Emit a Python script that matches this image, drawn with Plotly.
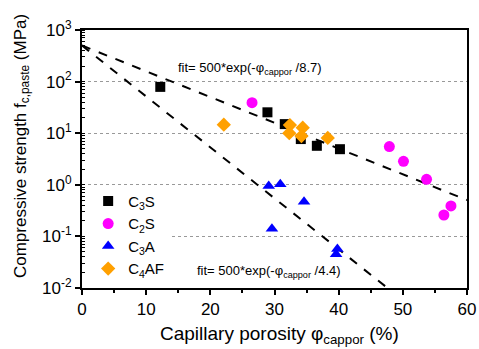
import numpy as np
import plotly.graph_objects as go

# Data
c3s_x = [12.2, 28.9, 31.6, 34.1, 36.6, 40.2]
c3s_y = [79, 25.4, 15, 7.7, 5.7, 4.9]

c2s_x = [26.5, 47.9, 50.1, 53.7, 57.5, 56.4]
c2s_y = [39, 5.5, 2.85, 1.28, 0.39, 0.26]

c3a_x = [29.1, 30.9, 34.6, 29.6, 39.8, 39.6]
c3a_y = [0.95, 1.02, 0.47, 0.14, 0.057, 0.045]

c4af_x = [22.1, 32.4, 32.3, 34.4, 34.2, 38.3]
c4af_y = [14.6, 14.4, 10.0, 12.8, 8.8, 8.1]

# Fit parameters: fit = A*exp(-phi/tau)
fit_A = 500
fit_tau = [8.7, 4.4]
fit_x = [0, 60]

y_tickvals = [1e-2, 1e-1, 1e0, 1e1, 1e2, 1e3]
y_ticktext = ["10<sup>-2</sup>", "10<sup>-1</sup>", "10<sup>0</sup>",
              "10<sup>1</sup>", "10<sup>2</sup>", "10<sup>3</sup>"]

FONT = "Arial"

fig = go.Figure()

for tau in fit_tau:
    xs = np.array(fit_x, dtype=float)
    fig.add_trace(go.Scatter(
        x=xs, y=fit_A * np.exp(-xs / tau), mode="lines",
        line=dict(color="black", width=2, dash="dash"),
        showlegend=False, hoverinfo="skip"))

fig.add_trace(go.Scatter(x=c3s_x, y=c3s_y, mode="markers", name="C<sub>3</sub>S",
                         marker=dict(symbol="square", size=10, color="black")))
fig.add_trace(go.Scatter(x=c2s_x, y=c2s_y, mode="markers", name="C<sub>2</sub>S",
                         marker=dict(symbol="circle", size=11, color="#FF00FF")))
fig.add_trace(go.Scatter(x=c3a_x, y=c3a_y, mode="markers", name="C<sub>3</sub>A",
                         marker=dict(symbol="triangle-up", size=11, color="#0000FF")))
fig.add_trace(go.Scatter(x=c4af_x, y=c4af_y, mode="markers", name="C<sub>4</sub>AF",
                         marker=dict(symbol="diamond", size=11, color="#FFA000")))

fig.add_annotation(x=14.6, y=np.log10(176), xref="x", yref="y", xanchor="left", yanchor="middle",
                   text="fit= 500*exp(-φ<sub>cappor</sub> /8.7)", showarrow=False,
                   font=dict(size=13, color="black", family=FONT))
fig.add_annotation(x=17.6, y=np.log10(0.0205), xref="x", yref="y", xanchor="left", yanchor="middle",
                   text="fit= 500*exp(-φ<sub>cappor</sub> /4.4)", showarrow=False,
                   font=dict(size=13, color="black", family=FONT))

# Axis titles
fig.add_annotation(x=0.514, y=-0.182, xref="paper", yref="paper", xanchor="center", yanchor="middle",
                   text="Capillary porosity φ<sub>cappor</sub> (%)", showarrow=False,
                   font=dict(size=19, color="black", family=FONT))
fig.add_annotation(x=-0.156, y=0.55, xref="paper", yref="paper", xanchor="center", yanchor="middle",
                   text="Compressive strength f<sub>c,paste</sub> (MPa)", showarrow=False,
                   textangle=-90, font=dict(size=17, color="black", family=FONT))

fig.update_layout(
    width=479, height=349,
    margin=dict(l=82, r=12, t=30, b=61),
    paper_bgcolor="white", plot_bgcolor="white",
    font=dict(family=FONT, color="black", size=16),
    legend=dict(x=0.016, y=0.40, xanchor="left", yanchor="top",
                bgcolor="white", font=dict(size=15), tracegroupgap=0,
                itemwidth=30),
)
fig.update_xaxes(
    range=[0, 60], dtick=10, tick0=0, automargin=False,
    showline=True, linecolor="black", linewidth=2, mirror=True,
    ticks="outside", ticklen=5, tickwidth=1.5, tickcolor="black",
    minor=dict(dtick=5, ticks="outside", ticklen=3, tickwidth=1.5, tickcolor="black", showgrid=False),
    showgrid=False, zeroline=False,
    tickfont=dict(size=17),
)
fig.update_yaxes(
    type="log", range=[-2, 3], automargin=False,
    tickvals=y_tickvals, ticktext=y_ticktext,
    showline=True, linecolor="black", linewidth=2, mirror=True,
    ticks="outside", ticklen=5, tickwidth=1.5, tickcolor="black",
    minor=dict(dtick="D1", ticks="inside", ticklen=3, tickwidth=1, tickcolor="black", showgrid=False),
    showgrid=True, gridcolor="#999999", gridwidth=1, griddash="dot",
    zeroline=False,
    tickfont=dict(size=17),
)

fig.write_html("out.html")
